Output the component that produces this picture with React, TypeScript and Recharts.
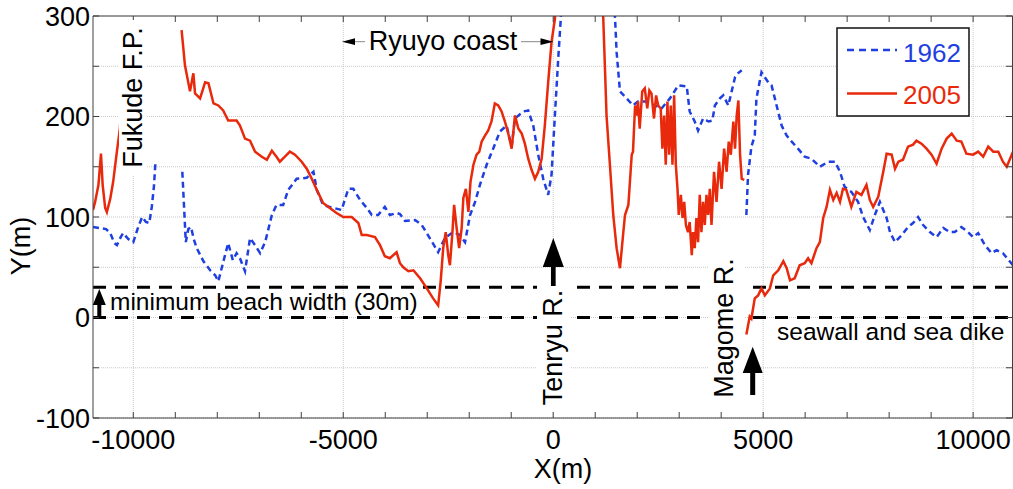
import React from 'react';
import { LineChart, Line, XAxis, YAxis, CartesianGrid, ReferenceLine } from 'recharts';

// 1962 shoreline (blue dashed), null = gap in the survey
const x1962 = [
  -10960, -10800, -10650, -10550, -10450, -10390, -10300, -10240, -10120, -10000, -9900, -9790, -9700, -9620, -9560, -9510, -9470,
  -9150,
  -8833, -8750, -8690, -8625, -8560, -8490, -8330, -8170, -8050, -7975, -7860, -7740, -7630, -7540, -7460, -7340, -7220, -7100,
  -6980, -6860, -6700, -6590, -6430, -6310, -6110, -5870, -5710, -5630, -5480, -5320, -5040, -4880, -4760, -4600, -4440, -4320,
  -4170, -4010, -3890, -3730, -3650, -3530, -3290, -3130, -2940, -2740, -2580, -2380, -2220, -2100, -1980, -1860, -1745, -1585,
  -1430, -1270, -1110, -990, -910, -715, -595, -475, -357, -238, -120, -40, 40, 120, 200, 300, 1300, 1470, 1510, 1590, 1750,
  1900, 2020, 2180, 2420, 2580, 2780, 2980, 3180, 3250, 3370, 3450, 3570, 3700, 3790, 3850, 3970, 4050, 4170, 4250, 4330, 4400, 4490,
  4545,
  4600, 4640, 4720, 4800, 4840, 4960, 5120, 5200, 5320, 5440, 5560, 5680, 5830, 5990, 6150, 6350, 6550, 6710, 6830, 6940, 7100,
  7260, 7380, 7540, 7660, 7780, 7860, 7940, 8020, 8140, 8300, 8450, 8570, 8690, 8810, 8970, 9130, 9290, 9440, 9560, 9720, 9880,
  10000, 10120, 10280, 10440, 10560, 10710, 10870, 10950,
];
const y1962 = [
  90, 89, 88, 84, 74, 72, 80, 84, 78, 75, 88, 100, 95, 94, 110, 130, 156,
  null,
  145, 75, 88, 90, 78, 69, 56, 47, 42, 36, 55, 74, 57, 64, 59, 46, 79, 72,
  64, 75, 102, 112, 112, 127, 138, 139, 145, 127, 112, 110, 107, 128, 128, 117, 109, 102,
  102, 110, 102, 104, 103, 96, 97, 92, 79, 65, 79, 85, 82, 75, 102, 115, 132, 152,
  168, 185, 191, 170, 198, 205, 206, 191, 162, 138, 122, 142, 201, 258, 310, 380, 380, 300, 264, 225, 218,
  211, 215, 215, 211, 208, 218, 231, 230, 205, 195, 186, 198, 195, 196, 211, 218, 221, 211, 225, 239, 243, 246,
  null,
  102, 142, 170, 181, 218, 244, 234, 231, 211, 191, 181, 175, 168, 160, 158, 150, 155, 155, 145, 130, 125,
  115, 100, 87, 102, 115, 107, 99, 85, 75, 82, 90, 94, 100, 92, 85, 80, 89, 85, 85, 90, 85,
  80, 84, 72, 64, 67, 64, 56, 52,
];

// 2005 shoreline (red solid)
const x2005 = [
  -10960, -10910, -10830, -10770, -10730, -10670, -10630, -10550, -10480, -10400, -10320, -10280,
  -9500,
  -8850, -8770, -8650, -8570, -8530, -8410, -8290, -8210, -8090, -7975, -7860, -7740, -7540, -7460, -7340, -7220, -7100, -6940,
  -6820, -6700, -6590, -6510, -6390, -6270, -6150, -5990, -5870, -5750, -5630, -5480, -5320, -5160, -5000, -4800, -4640, -4560,
  -4440, -4245, -4125, -4010, -3890, -3730, -3650, -3570, -3450, -3330, -3170, -3010, -2860, -2740, -2680, -2620, -2560, -2500,
  -2460, -2400, -2360, -2300, -2240, -2180, -2140, -2080, -2020, -1970, -1900, -1825, -1760, -1705, -1625, -1550, -1470, -1390,
  -1310, -1230, -1150, -1070, -990, -910, -830, -750, -675, -595, -515, -435, -357, -275, -200, -120, -40, 40, 150, 1150, 1190,
  1230, 1270, 1350, 1430, 1510, 1590, 1670, 1710, 1790, 1870, 1900, 1950, 1985, 2020, 2060, 2120, 2180, 2240, 2290, 2340, 2400,
  2450, 2500, 2560, 2600, 2640, 2680, 2720, 2760, 2800, 2840, 2880, 2920, 2960, 2990, 3040, 3080, 3120, 3160, 3210, 3250, 3300,
  3330, 3370, 3410, 3450, 3490, 3530, 3570, 3610, 3650, 3690, 3730, 3770, 3830, 3890, 3950, 4010, 4070, 4130, 4180, 4230, 4290,
  4330, 4370, 4410, 4450, 4490, 4550,
  4575,
  4600, 4680, 4720, 4800, 4880, 4960, 5040, 5160, 5240, 5360, 5480, 5560, 5640, 5750, 5870, 5990, 6070, 6150, 6270, 6350, 6430,
  6510, 6590, 6670, 6750, 6830, 6900, 6980, 7100, 7220, 7340, 7460, 7540, 7620, 7740, 7860, 7940, 8060, 8140, 8220, 8330, 8450,
  8570, 8650, 8770, 8890, 9010, 9130, 9250, 9370, 9490, 9610, 9720, 9840, 10000, 10120, 10240, 10360, 10480, 10600, 10710,
  10800, 10950,
];
const y2005 = [
  107, 115, 132, 163, 132, 109, 105, 118, 135, 162, 188, 211,
  null,
  286, 251, 225, 243, 223, 218, 234, 233, 213, 211, 206, 196, 196, 191, 178, 176, 165, 160,
  157, 166, 160, 155, 160, 165, 162, 155, 148, 138, 127, 114, 109, 104, 100, 100, 94, 82,
  82, 80, 72, 61, 59, 65, 54, 50, 46, 47, 39, 29, 19, 12, 36, 69, 85, 62,
  52, 85, 112, 89, 69, 89, 119, 128, 105, 135, 152, 162, 165, 175, 181, 186, 195, 213,
  211, 205, 195, 183, 168, 201, 188, 183, 173, 158, 147, 138, 145, 158, 191, 234, 274, 297, 380, 380, 300,
  251, 201, 152, 102, 69, 49, 85, 102, 112, 162, 165, 211, 201, 215, 188, 225, 228, 208, 226, 223, 198,
  221, 211, 208, 168, 201, 152, 215, 162, 211, 152, 221, 152, 128, 102, 122, 99, 115, 92, 85, 95, 62,
  85, 69, 99, 75, 122, 85, 115, 92, 122, 102, 128, 92, 145, 115, 155, 128, 168, 145, 175, 162, 195,
  168, 201, 216, 162, 138, 137,
  null,
  -17, 1, -1, 19, 22, 29, 22, 29, 42, 47, 56, 49, 37, 39, 52, 54, 59, 54, 69, 75, 99,
  110, 127, 117, 124, 115, 128, 127, 110, 125, 122, 132, 117, 110, 120, 145, 163, 162, 148, 155, 157, 170,
  172, 176, 173, 168, 162, 153, 168, 178, 183, 176, 175, 163, 162, 165, 160, 170, 165, 165, 155,
  150, 165,
];

const xTicks = [-10000, -9000, -8000, -7000, -6000, -5000, -4000, -3000, -2000, -1000, 0, 1000, 2000, 3000, 4000, 5000, 6000, 7000, 8000, 9000, 10000];
const xLabelled = [-10000, -5000, 0, 5000, 10000];
const yTicks = [-100, -50, 0, 50, 100, 150, 200, 250, 300];
const yLabelled = [-100, 0, 100, 200, 300];
const beachLines = [30, 0];

const W = 1013;
const H = 489;
const PLOT = { left: 93, top: 16, right: 1013, bottom: 418 };
const X_DOMAIN: [number, number] = [-10960, 10950];
const Y_DOMAIN: [number, number] = [-100, 300];
const FONT = '"Liberation Sans", Arial, Helvetica, sans-serif';
const BLUE = '#1f3fe0';
const RED = '#e8290b';
const AXIS = '#404040';

const toRows = (xs: number[], ys: (number | null)[]) => xs.map((x, i) => ({ x, y: ys[i] }));
const data1962 = toRows(x1962, y1962);
const data2005 = toRows(x2005, y2005);

const sx = (v: number) => PLOT.left + ((v - X_DOMAIN[0]) / (X_DOMAIN[1] - X_DOMAIN[0])) * (PLOT.right - PLOT.left);
const sy = (v: number) => PLOT.bottom - ((v - Y_DOMAIN[0]) / (Y_DOMAIN[1] - Y_DOMAIN[0])) * (PLOT.bottom - PLOT.top);

function UpArrow({ x, tip, base, bottom, head, shaft }: { x: number; tip: number; base: number; bottom: number; head: number; shaft: number }) {
  return (
    <g fill="#000">
      <rect x={x - shaft / 2} y={base - 1} width={shaft} height={bottom - base + 1} />
      <polygon points={`${x},${tip} ${x - head / 2},${base} ${x + head / 2},${base}`} />
    </g>
  );
}

function Overlay() {
  return (
    <svg width={W} height={H} style={{ position: 'absolute', left: 0, top: 0, pointerEvents: 'none' }} fontFamily={FONT}>
      {/* box: top and right edges with inward ticks */}
      <line x1={PLOT.left} y1={PLOT.top} x2={PLOT.right} y2={PLOT.top} stroke={AXIS} />
      <line x1={PLOT.right - 0.5} y1={PLOT.top} x2={PLOT.right - 0.5} y2={PLOT.bottom} stroke={AXIS} />
      {xTicks.map((t) => (
        <line key={`tt${t}`} x1={sx(t)} y1={PLOT.top} x2={sx(t)} y2={PLOT.top + 6} stroke={AXIS} />
      ))}
      {yTicks.map((t) => (
        <line key={`rt${t}`} x1={PLOT.right - 1} y1={sy(t)} x2={PLOT.right - 7} y2={sy(t)} stroke={AXIS} />
      ))}

      {/* Fukude F.P. */}
      <rect x={119} y={20} width={28} height={156} fill="#fff" />
      <text x={142} y={97.5} fontSize={27} textAnchor="middle" transform="rotate(-90 142 97.5)">Fukude F.P.</text>

      {/* Ryuyo coast */}
      <line x1={346} y1={41.7} x2={550} y2={41.7} stroke="#888" strokeWidth={1} />
      <polygon points="342,41.7 355,38.3 355,45.1" fill="#000" />
      <polygon points="553.5,41.7 540.5,38.3 540.5,45.1" fill="#000" />
      <rect x={365} y={27} width={156} height={32} fill="#fff" />
      <text x={443} y={50} fontSize={27} textAnchor="middle">Ryuyo coast</text>

      {/* minimum beach width */}
      <UpArrow x={99.3} tip={289} base={305} bottom={317} head={13} shaft={4} />
      <text x={110} y={310} fontSize={24.5}>minimum beach width (30m)</text>

      {/* Tenryu R. */}
      <rect x={537} y={285} width={34} height={126} fill="#fff" />
      <text x={562} y={347.5} fontSize={27} textAnchor="middle" transform="rotate(-90 562 347.5)">Tenryu R.</text>
      <UpArrow x={553.3} tip={238} base={267} bottom={286} head={21} shaft={4.7} />

      {/* Magome R. */}
      <rect x={708} y={252} width={36} height={150} fill="#fff" />
      <text x={733} y={328} fontSize={27} textAnchor="middle" transform="rotate(-90 733 328)">Magome R.</text>
      <UpArrow x={752.7} tip={346.7} base={373} bottom={395} head={20} shaft={5} />

      <text x={777} y={340} fontSize={24.5}>seawall and sea dike</text>

      {/* axis titles */}
      <text x={30} y={246} fontSize={27} textAnchor="middle" transform="rotate(-90 30 246)">Y(m)</text>
      <text x={563} y={478} fontSize={27} textAnchor="middle">X(m)</text>

      {/* legend */}
      <rect x={837} y={28} width={132} height={88} fill="#fff" stroke="#111" strokeWidth={1.5} />
      <line x1={847} y1={50} x2={897} y2={50} stroke={BLUE} strokeWidth={2.5} strokeDasharray="7 5" />
      <text x={903} y={61.5} fontSize={26} fill={BLUE}>1962</text>
      <line x1={847} y1={93.5} x2={897} y2={93.5} stroke={RED} strokeWidth={2.5} />
      <text x={903} y={103.5} fontSize={26} fill={RED}>2005</text>
    </svg>
  );
}

export default function App() {
  const tickStyle = { fontSize: 27, fill: '#000', fontFamily: FONT };
  return (
    <div style={{ position: 'absolute', left: 0, top: 0, width: W, height: H, background: '#fff' }}>
      <LineChart width={W} height={H} margin={{ top: PLOT.top, right: W - PLOT.right, bottom: 0, left: 0 }}>
        <CartesianGrid
          stroke="#c8c8c8"
          strokeDasharray="1 1"
          verticalValues={xLabelled}
          horizontalValues={yTicks}
        />
        <XAxis
          type="number"
          dataKey="x"
          domain={X_DOMAIN}
          allowDataOverflow
          ticks={xTicks}
          interval={0}
          tickFormatter={(v: number) => (xLabelled.includes(v) ? String(v) : '')}
          height={H - PLOT.bottom}
          tickSize={-6}
          tickMargin={18}
          tick={tickStyle}
          stroke={AXIS}
        />
        <YAxis
          type="number"
          domain={Y_DOMAIN}
          allowDataOverflow
          ticks={yTicks}
          interval={0}
          tickFormatter={(v: number) => (yLabelled.includes(v) ? String(v) : '')}
          width={PLOT.left}
          tickSize={-6}
          tickMargin={9}
          tick={tickStyle}
          stroke={AXIS}
        />
        {beachLines.map((v) => (
          <ReferenceLine key={v} y={v} stroke="#000" strokeWidth={3} strokeDasharray="13 9" />
        ))}
        <Line
          data={data1962}
          dataKey="y"
          stroke={BLUE}
          strokeWidth={2.5}
          strokeDasharray="6 4"
          dot={false}
          connectNulls={false}
          isAnimationActive={false}
        />
        <Line
          data={data2005}
          dataKey="y"
          stroke={RED}
          strokeWidth={2.5}
          dot={false}
          connectNulls={false}
          isAnimationActive={false}
        />
      </LineChart>
      <Overlay />
    </div>
  );
}
